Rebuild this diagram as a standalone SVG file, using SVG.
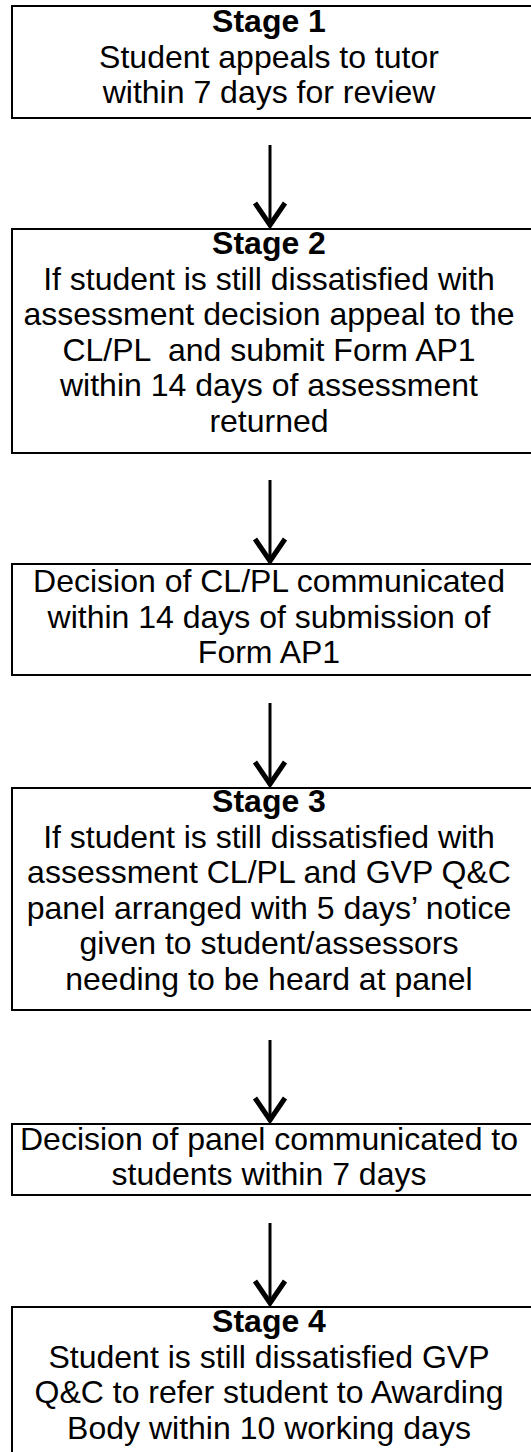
<svg xmlns="http://www.w3.org/2000/svg" width="531" height="1452" viewBox="0 0 531 1452">
<style>
.box{fill:#fff;stroke:#000;stroke-width:2}
.t{font-family:"Liberation Sans",Arial,sans-serif;font-size:32px;fill:#000;text-anchor:middle}
.h{font-weight:bold}
.shaft{fill:none;stroke:#000;stroke-width:3}
.head{fill:none;stroke:#000;stroke-width:5;stroke-linejoin:miter;stroke-miterlimit:10}
</style>
<defs>
<path id="ah" class="head" d="M-15,-26 L0,-4 L15,-26"/>
</defs>
<rect width="531" height="1452" fill="#fff"/>
<g id="connectors">
<line class="shaft" x1="270" y1="145" x2="270" y2="224"/><use href="#ah" x="270" y="229"/>
<line class="shaft" x1="270" y1="480" x2="270" y2="560"/><use href="#ah" x="270" y="565"/>
<line class="shaft" x1="270" y1="703" x2="270" y2="783"/><use href="#ah" x="270" y="788"/>
<line class="shaft" x1="270" y1="1040" x2="270" y2="1119"/><use href="#ah" x="270" y="1124"/>
<line class="shaft" x1="270" y1="1223" x2="270" y2="1302"/><use href="#ah" x="270" y="1307"/>
</g>
<g id="stage1">
<rect class="box" x="12" y="6" width="540" height="112"/>
<text class="t h" x="269" y="32">Stage 1</text>
<text class="t" x="269" y="67.5">Student appeals to tutor</text>
<text class="t" x="269" y="103">within 7 days for review</text>
</g>
<g id="stage2">
<rect class="box" x="12" y="229" width="540" height="224"/>
<text class="t h" x="269" y="254">Stage 2</text>
<text class="t" x="269" y="289.5">If student is still dissatisfied with</text>
<text class="t" x="269" y="325">assessment decision appeal to the</text>
<text class="t" x="269" y="360.5" xml:space="preserve">CL/PL  and submit Form AP1</text>
<text class="t" x="269" y="396">within 14 days of assessment</text>
<text class="t" x="269" y="431.5">returned</text>
</g>
<g id="decision1">
<rect class="box" x="12" y="564" width="540" height="111"/>
<text class="t" x="269" y="592">Decision of CL/PL communicated</text>
<text class="t" x="269" y="627.5">within 14 days of submission of</text>
<text class="t" x="269" y="663">Form AP1</text>
</g>
<g id="stage3">
<rect class="box" x="12" y="788" width="540" height="222"/>
<text class="t h" x="269" y="812">Stage 3</text>
<text class="t" x="269" y="847.5">If student is still dissatisfied with</text>
<text class="t" x="269" y="883">assessment CL/PL and GVP Q&amp;C</text>
<text class="t" x="269" y="918.5">panel arranged with 5 days’ notice</text>
<text class="t" x="269" y="954">given to student/assessors</text>
<text class="t" x="269" y="989.5">needing to be heard at panel</text>
</g>
<g id="decision2">
<rect class="box" x="12" y="1124" width="540" height="71"/>
<text class="t" x="269" y="1150">Decision of panel communicated to</text>
<text class="t" x="269" y="1185">students within 7 days</text>
</g>
<g id="stage4">
<rect class="box" x="12" y="1307" width="540" height="200"/>
<text class="t h" x="269" y="1332">Stage 4</text>
<text class="t" x="269" y="1367.5">Student is still dissatisfied GVP</text>
<text class="t" x="269" y="1403">Q&amp;C to refer student to Awarding</text>
<text class="t" x="269" y="1438.5">Body within 10 working days</text>
</g>
</svg>
